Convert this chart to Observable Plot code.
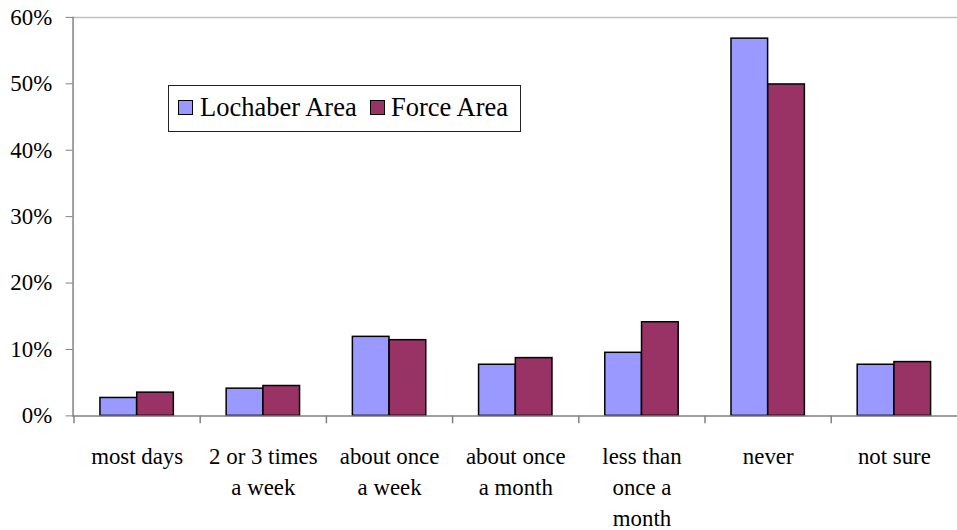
<!DOCTYPE html>
<html>
<head>
<meta charset="utf-8">
<script src="https://cdn.jsdelivr.net/npm/d3@7"></script>
<script src="https://cdn.jsdelivr.net/npm/@observablehq/plot@0.6"></script>
<style>
  html, body { margin: 0; padding: 0; background: #fff; overflow: hidden; }
  #wrap { position: relative; width: 957px; height: 530px; overflow: hidden; font-family: "Liberation Serif", "Times New Roman", serif; }
  #wrap svg, #wrap svg text { font-family: "Liberation Serif", "Times New Roman", serif !important; }
  #legend { position: absolute; left: 168px; top: 85px; width: 351px; height: 45px; border: 1px solid #222; background: #fff; box-sizing: content-box; }
  .sw { position: absolute; top: 14px; width: 13px; height: 13px; border: 1.5px solid #000; }
  .lt { position: absolute; top: 6px; font-size: 26.5px; line-height: 30px; color: #000; white-space: nowrap; }
</style>
</head>
<body>
<div id="wrap"></div>
<script>
const categories = ["most days", "2 or 3 times a week", "about once a week", "about once a month", "less than once a month", "never", "not sure"];
const categoryLabels = ["most days", "2 or 3 times\na week", "about once\na week", "about once\na month", "less than\nonce a\nmonth", "never", "not sure"];
const seriesNames = ["Lochaber Area", "Force Area"];
const lochaber = [0.027, 0.041, 0.119, 0.077, 0.095, 0.568, 0.077];
const force = [0.035, 0.045, 0.114, 0.087, 0.141, 0.499, 0.081];
const seriesColors = ["#9999FF", "#993366"];
const yTicks = [0, 0.1, 0.2, 0.3, 0.4, 0.5, 0.6];

const rowsL = categories.map((c, i) => ({category: c, value: lochaber[i], series: seriesNames[0]}));
const rowsF = categories.map((c, i) => ({category: c, value: force[i], series: seriesNames[1]}));
const labelRows = categories.map((c, i) => ({category: c, label: categoryLabels[i]}));

const W = 963, H = 530, mL = 73, mR = 0, mT = 17, mB = 112;
const bw = (W - mL - mR) / categories.length;
const barW = 37;
const half = bw / 2;
const FS = 23;

const chart = Plot.plot({
  width: W,
  height: H,
  marginLeft: mL,
  marginRight: mR,
  marginTop: mT,
  marginBottom: mB,
  style: {fontSize: FS + "px", color: "#000", background: "#fff"},
  x: {domain: categories, type: "band", padding: 0, axis: null},
  y: {domain: [0, 0.6], axis: null},
  color: {domain: seriesNames, range: seriesColors},
  marks: [
    Plot.ruleY([0.6], {stroke: "#c0c0c0", strokeWidth: 1.5}),
    Plot.barY(rowsL, {x: "category", y: "value", fill: seriesColors[0], stroke: "#000", strokeWidth: 1.5,
      insetLeft: half - barW, insetRight: half}),
    Plot.barY(rowsF, {x: "category", y: "value", fill: seriesColors[1], stroke: "#000", strokeWidth: 1.5,
      insetLeft: half, insetRight: half - barW}),
    Plot.ruleY([0], {stroke: "#808080", strokeWidth: 1.5}),
    Plot.frame({anchor: "left", stroke: "#808080", strokeWidth: 1.5}),
    Plot.ruleX(categories, {x: d => d, y1: 0, y2: 0, dx: -half, insetBottom: -8, stroke: "#808080", strokeWidth: 1.5}),
    Plot.axisY({ticks: yTicks, tickFormat: d3.format(".0%"), tickSize: 7, tickPadding: 14, stroke: "#808080", fill: "#000", fontSize: FS, label: null}),
    Plot.text(labelRows, {x: "category", y: 0, text: "label", lineAnchor: "top", dy: 26, lineHeight: 1.36, fontSize: FS, fill: "#000"})
  ]
});

const wrap = document.getElementById("wrap");
wrap.appendChild(chart);

const legend = document.createElement("div");
legend.id = "legend";
const swX = [9, 201];
const txX = [31, 222];
seriesNames.forEach((name, i) => {
  const sw = document.createElement("div");
  sw.className = "sw";
  sw.style.left = swX[i] + "px";
  sw.style.background = seriesColors[i];
  legend.appendChild(sw);
  const t = document.createElement("div");
  t.className = "lt";
  t.style.left = txX[i] + "px";
  t.textContent = name;
  legend.appendChild(t);
});
wrap.appendChild(legend);
</script>
</body>
</html>
